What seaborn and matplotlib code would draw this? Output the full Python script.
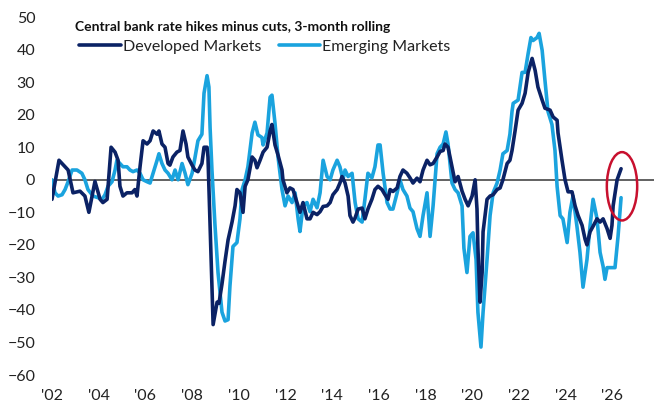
import numpy as np
import pandas as pd
import seaborn as sns
import matplotlib.pyplot as plt
from matplotlib.patches import Ellipse

# Developed Markets (year, hikes minus cuts)
dm_year = [2002.00, 2002.30, 2002.69, 2002.90, 2003.20, 2003.41, 2003.58, 2003.84, 2004.06, 2004.18,
           2004.36, 2004.53, 2004.70, 2004.83, 2004.91, 2005.04, 2005.21, 2005.43, 2005.55, 2005.64,
           2005.77, 2005.90, 2006.07, 2006.20, 2006.33, 2006.50, 2006.58, 2006.71, 2006.84, 2006.97,
           2007.05, 2007.18, 2007.35, 2007.48, 2007.61, 2007.74, 2007.82, 2008.00, 2008.12, 2008.25,
           2008.42, 2008.51, 2008.64, 2008.68, 2008.90, 2009.07, 2009.15, 2009.28, 2009.41, 2009.54,
           2009.71, 2009.84, 2009.92, 2010.05, 2010.18, 2010.27, 2010.39, 2010.57, 2010.69, 2010.78,
           2010.91, 2011.04, 2011.21, 2011.34, 2011.42, 2011.55, 2011.68, 2011.85, 2011.89, 2012.06,
           2012.19, 2012.32, 2012.49, 2012.62, 2012.75, 2012.92, 2013.05, 2013.18, 2013.35, 2013.48,
           2013.61, 2013.78, 2013.91, 2014.03, 2014.21, 2014.33, 2014.42, 2014.55, 2014.68, 2014.76,
           2014.89, 2014.98, 2015.11, 2015.28, 2015.40, 2015.53, 2015.70, 2015.83, 2015.96, 2016.13,
           2016.26, 2016.39, 2016.48, 2016.60, 2016.78, 2016.90, 2017.03, 2017.20, 2017.33, 2017.46,
           2017.63, 2017.76, 2017.89, 2018.06, 2018.19, 2018.32, 2018.49, 2018.62, 2018.75, 2018.83,
           2018.96, 2019.13, 2019.26, 2019.39, 2019.56, 2019.69, 2019.82, 2019.99, 2020.12, 2020.20,
           2020.24, 2020.33, 2020.42, 2020.46, 2020.63, 2020.76, 2020.89, 2021.06, 2021.19, 2021.31,
           2021.49, 2021.61, 2021.70, 2021.83, 2021.96, 2022.13, 2022.26, 2022.39, 2022.56, 2022.69,
           2022.81, 2022.99, 2023.11, 2023.33, 2023.46, 2023.63, 2023.67, 2023.84, 2023.97, 2024.10,
           2024.27, 2024.40, 2024.53, 2024.70, 2024.83, 2024.91, 2025.04, 2025.17, 2025.34, 2025.47,
           2025.60, 2025.77, 2025.90, 2025.98, 2026.03, 2026.20, 2026.37]
dm_val = [-6, 6, 3, -4, -3.5, -5, -10, -0.5, -6, -7,
          -6, 10, 8.5, 6, -2, -5, -4, -4, -3, -5,
          4, 12, 11, 12, 15, 14, 15, 11, 10, 5,
          4.5, 7, 8.5, 9, 15, 11, 7, 4.5, 3, 2.5,
          5, 10, 10, 7, -44.5, -37.6, -38, -32, -25, -18.5,
          -13, -8, -3, -4, -10, -2, 0, 7, 6, 3.7,
          6, 8.5, 10, 15, 17, 10.7, 7.6, 3, 0, -4,
          -2.5, -3, -7, -10, -7, -12, -12, -10, -10.7, -9.8,
          -8.2, -8, -7, -4.6, -3, -1, 1, -1, -5, -11,
          -13, -11.7, -9, -8.7, -12, -9, -6, -3, -2, -3,
          -4.6, -6, -3, -3.6, -2.5, 1, 3, 2, 0.6, -1,
          0.5, -0.6, 3, 6, 4.6, 5, 7, 8.7, 9, 11,
          10, 4, -0.6, 1, -3.5, -6, -8, -5, 0, -9,
          -21, -37.6, -28.5, -16, -6, -5, -4.6, -3, -2.5, 0,
          5, 6, 9, 15, 21.4, 23.5, 26.6, 33, 37.3, 33.6,
          28.5, 24.5, 22, 21.4, 19.3, 18.3, 14.4, 6, 0, -3.7,
          -3.7, -8, -11, -14, -18.3, -20, -16, -14.3, -12, -13,
          -12, -15, -18, -14, -8, 0, 3.4]

# Emerging Markets
em_year = [2002.00, 2002.13, 2002.26, 2002.43, 2002.56, 2002.69, 2002.86, 2003.07, 2003.28, 2003.41,
           2003.54, 2003.76, 2003.97, 2004.14, 2004.27, 2004.40, 2004.57, 2004.70, 2004.78, 2004.91,
           2005.04, 2005.21, 2005.34, 2005.47, 2005.64, 2005.77, 2005.90, 2006.07, 2006.20, 2006.33,
           2006.50, 2006.58, 2006.71, 2006.84, 2006.97, 2007.14, 2007.27, 2007.40, 2007.57, 2007.70,
           2007.82, 2008.00, 2008.12, 2008.25, 2008.42, 2008.51, 2008.64, 2008.72, 2008.77, 2008.85,
           2008.98, 2009.11, 2009.28, 2009.41, 2009.54, 2009.62, 2009.75, 2009.92, 2010.05, 2010.14,
           2010.27, 2010.39, 2010.57, 2010.69, 2010.82, 2010.99, 2011.04, 2011.21, 2011.34, 2011.42,
           2011.55, 2011.68, 2011.85, 2011.98, 2012.11, 2012.28, 2012.41, 2012.54, 2012.62, 2012.75,
           2012.92, 2013.05, 2013.18, 2013.35, 2013.48, 2013.61, 2013.78, 2013.91, 2014.03, 2014.21,
           2014.33, 2014.46, 2014.55, 2014.68, 2014.85, 2014.98, 2015.11, 2015.28, 2015.40, 2015.53,
           2015.70, 2015.83, 2015.96, 2016.05, 2016.18, 2016.35, 2016.48, 2016.60, 2016.78, 2016.90,
           2017.03, 2017.20, 2017.33, 2017.46, 2017.63, 2017.76, 2017.89, 2018.06, 2018.19, 2018.32,
           2018.49, 2018.62, 2018.75, 2018.87, 2018.96, 2019.13, 2019.26, 2019.39, 2019.56, 2019.64,
           2019.77, 2019.90, 2020.03, 2020.16, 2020.24, 2020.37, 2020.46, 2020.63, 2020.76, 2020.89,
           2021.06, 2021.19, 2021.31, 2021.49, 2021.61, 2021.70, 2021.75, 2021.96, 2022.13, 2022.26,
           2022.39, 2022.51, 2022.60, 2022.77, 2022.86, 2022.99, 2023.11, 2023.24, 2023.41, 2023.54,
           2023.63, 2023.76, 2023.88, 2024.06, 2024.18, 2024.31, 2024.48, 2024.61, 2024.74, 2024.91,
           2025.04, 2025.17, 2025.34, 2025.47, 2025.60, 2025.68, 2025.77, 2026.11, 2026.24, 2026.37]
em_val = [0, -4, -5, -4.6, -3, -0.6, 3, 3, 2, 0,
          -3, -5, -5.5, -6, -4.6, -2, -0.6, 3, 6, 5,
          4, 4, 3, 2.5, 3, 2, 0, -0.6, -1, 2,
          6, 8, 5, 3, 2, 0, 3, 0, 5, 2,
          -1.5, 2, 6.7, 12, 14, 26.6, 32, 28.5, 16, 3,
          -14, -28.5, -40.7, -43.4, -43, -32.7, -20.5, -19.3, -12, -3,
          0, 4, 14.4, 17.7, 13.8, 13, 10.7, 14.4, 25.4, 26,
          17.4, 7, -3, -8, -5, -7, -4, -12, -15.9, -8,
          -7, -9.8, -6, -8.6, -4, 6, 1, 0, 3, 6,
          4, 0, 3, 1, 2, -7, -12, -13, -6, 2,
          0.6, 4, 10.7, 10.7, 2, -7, -9, -9, -4, 0,
          -3, -5, -8.7, -9.8, -15, -17.4, -11, -4, -17.4, -8,
          8, 10, 11, 14.7, 11, -1, -3, -4, -8, -21,
          -28.5, -17.4, -16.3, -24.5, -40.7, -51.4, -40.7, -24.5, -11, -4,
          -1, 3, 8, 9, 14, 21, 23.5, 24.5, 33, 33,
          38.8, 43.7, 42.8, 43.7, 45, 39.8, 30.6, 21, 17, 9,
          -2, -11, -12, -19.3, -10, -5, -14.3, -22.3, -33, -24.5,
          -14.3, -6, -12, -22.3, -26.6, -30.6, -27, -27, -17.4, -5.5]

y_ticks = [50, 40, 30, 20, 10, 0, -10, -20, -30, -40, -50, -60]
x_ticks = list(range(2002, 2028, 2))
x_labels = ["'02", "'04", "'06", "'08", "'10", "'12", "'14", "'16", "'18", "'20", "'22", "'24", "'26"]

dm_color = '#0B2265'
em_color = '#1AA3DE'

sns.set_style('white')
plt.rcParams['font.family'] = ['Lato', 'DejaVu Sans']

fig = plt.figure(figsize=(6.54, 4.07), dpi=100)
ax = fig.add_axes([0.0795, 0.0786, 0.9205, 0.8794])

ax.axhline(0, color='#555555', lw=1.3, zorder=1)

sns.lineplot(x=em_year, y=em_val, ax=ax, color=em_color, lw=2.6, label='Emerging Markets', zorder=2)
sns.lineplot(x=dm_year, y=dm_val, ax=ax, color=dm_color, lw=2.6, label='Developed Markets', zorder=3)

ax.set_xlim(2002, 2027.78)
ax.set_ylim(-60, 50)
ax.set_yticks(y_ticks)
ax.set_xticks(x_ticks)
ax.set_xticklabels(x_labels)
ax.tick_params(axis='both', length=0, labelsize=11.5, colors='#222222')
ax.tick_params(axis='y', pad=12)
ax.tick_params(axis='x', pad=10)
for s in ax.spines.values():
    s.set_visible(False)

# red circle highlighting the latest readings
ax.add_patch(Ellipse((2026.41, -2.0), 1.3, 21.0, fill=False, edgecolor='#C8102E', lw=1.8, zorder=4))

h, l = ax.get_legend_handles_labels()
ax.legend(h[::-1], l[::-1], loc='upper left', bbox_to_anchor=(0.035, 0.955), ncol=2,
          frameon=False, fontsize=11.5, handlelength=2.6, handletextpad=0.1,
          columnspacing=1.1, borderaxespad=0, labelcolor='#222222')

fig.text(75 / 654, 1 - 31 / 407, 'Central bank rate hikes minus cuts, 3-month rolling',
         fontsize=10, fontweight='bold', color='#111111', va='baseline')

plt.savefig('out.png', dpi=100)
